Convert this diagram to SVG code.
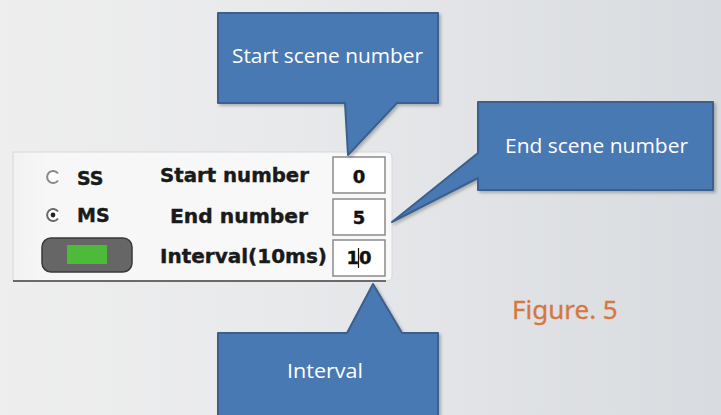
<svg xmlns="http://www.w3.org/2000/svg" width="721" height="415" viewBox="0 0 721 415">
<defs>
<linearGradient id="bg" x1="0" y1="0" x2="1" y2="0">
<stop offset="0" stop-color="#eeeeee"/>
<stop offset="0.4" stop-color="#e8e9eb"/>
<stop offset="1" stop-color="#d8dbdf"/>
</linearGradient>
<linearGradient id="panelg" x1="0" y1="0" x2="1" y2="0">
<stop offset="0" stop-color="#f2f2f2"/>
<stop offset="0.1" stop-color="#f7f7f7"/>
<stop offset="1" stop-color="#f8f8f8"/>
</linearGradient>
<filter id="sh" x="-10%" y="-10%" width="130%" height="130%">
<feDropShadow dx="2" dy="2" stdDeviation="1.5" flood-color="#000" flood-opacity="0.25"/>
</filter>
</defs>
<style>
.callout{fill:#4a79b3;stroke:#3a5f8f;stroke-width:2;stroke-linejoin:round;filter:url(#sh)}
.ct{font-family:"Open Sans","Noto Sans",sans-serif;font-size:20.5px;fill:#ffffff}
.ui{font-family:"DejaVu Sans",sans-serif;font-weight:bold;font-size:19px;fill:#1a1a1a;stroke:#1a1a1a;stroke-width:0.4}
.box{fill:#ffffff;stroke:#8a8a8a;stroke-width:1.5}
.val{font-family:"DejaVu Sans",sans-serif;font-weight:bold;font-size:18px;fill:#111;stroke:#111;stroke-width:0.4;text-anchor:middle}
.fig{font-family:"Source Sans Pro","Noto Sans",sans-serif;font-size:26px;fill:#d5773f;stroke:#d5773f;stroke-width:0.3}
</style>
<rect width="721" height="415" fill="url(#bg)"/>
<g id="panel">
<path d="M13,152 H386 Q392,152 392,158 V276 Q392,281 386,281 H13 Z" fill="url(#panelg)" stroke="#d8d8d8" stroke-width="1"/>
<line x1="13" y1="281" x2="386" y2="281" stroke="#6a6a6a" stroke-width="2"/>
<g id="radio-ss">
<circle cx="53" cy="177" r="6" fill="#ffffff"/>
<path d="M58,173.5 A6,6 0 1 0 58,180.5" fill="none" stroke="#8a8a8a" stroke-width="2"/>
<text class="ui" x="77" y="185">SS</text>
</g>
<g id="radio-ms">
<circle cx="53" cy="215" r="6" fill="#ffffff"/>
<path d="M58,211.5 A6,6 0 1 0 58,218.5" fill="none" stroke="#6a6a6a" stroke-width="2"/>
<circle cx="53" cy="215" r="2.4" fill="#222"/>
<text class="ui" x="77" y="222">MS</text>
</g>
<g id="toggle-button">
<rect x="42" y="238" width="90" height="34" rx="9" fill="#666666" stroke="#3a3a3a" stroke-width="1.5"/>
<rect x="67" y="245" width="40" height="19" fill="#4cbb3a"/>
</g>
<text class="ui" x="160" y="182" textLength="149" lengthAdjust="spacingAndGlyphs">Start number</text>
<text class="ui" x="170" y="223" textLength="138" lengthAdjust="spacingAndGlyphs">End number</text>
<text class="ui" x="160" y="263" textLength="167" lengthAdjust="spacingAndGlyphs">Interval(10ms)</text>
<g id="field-start">
<rect class="box" x="333" y="157" width="52" height="36"/>
<text class="val" x="359" y="183">0</text>
</g>
<g id="field-end">
<rect class="box" x="333" y="199" width="52" height="36"/>
<text class="val" x="359" y="224">5</text>
</g>
<g id="field-interval">
<rect class="box" x="333" y="240" width="52" height="36"/>
<text class="val" x="359" y="264">10</text>
<line x1="358.5" y1="248" x2="358.5" y2="268" stroke="#111" stroke-width="1.2"/>
</g>
</g>
<g id="connectors"></g>
<g id="callout-start">
<path class="callout" d="M218,13 H438 V103 H397 L348,155 L345,103 H218 Z"/>
<text class="ct" x="232" y="63" textLength="191" lengthAdjust="spacingAndGlyphs">Start scene number</text>
</g>
<g id="callout-end">
<path class="callout" d="M478,102 H713 V190 H478 V178 L392,222 L478,153 Z"/>
<text class="ct" x="505" y="153" textLength="183" lengthAdjust="spacingAndGlyphs">End scene number</text>
</g>
<g id="callout-interval">
<path class="callout" d="M218,333 H347 L373,284 L402,333 H438 V425 H218 Z"/>
<text class="ct" x="287" y="378" textLength="76" lengthAdjust="spacingAndGlyphs">Interval</text>
</g>
<text class="fig" x="512" y="319">Figure. 5</text>
</svg>
